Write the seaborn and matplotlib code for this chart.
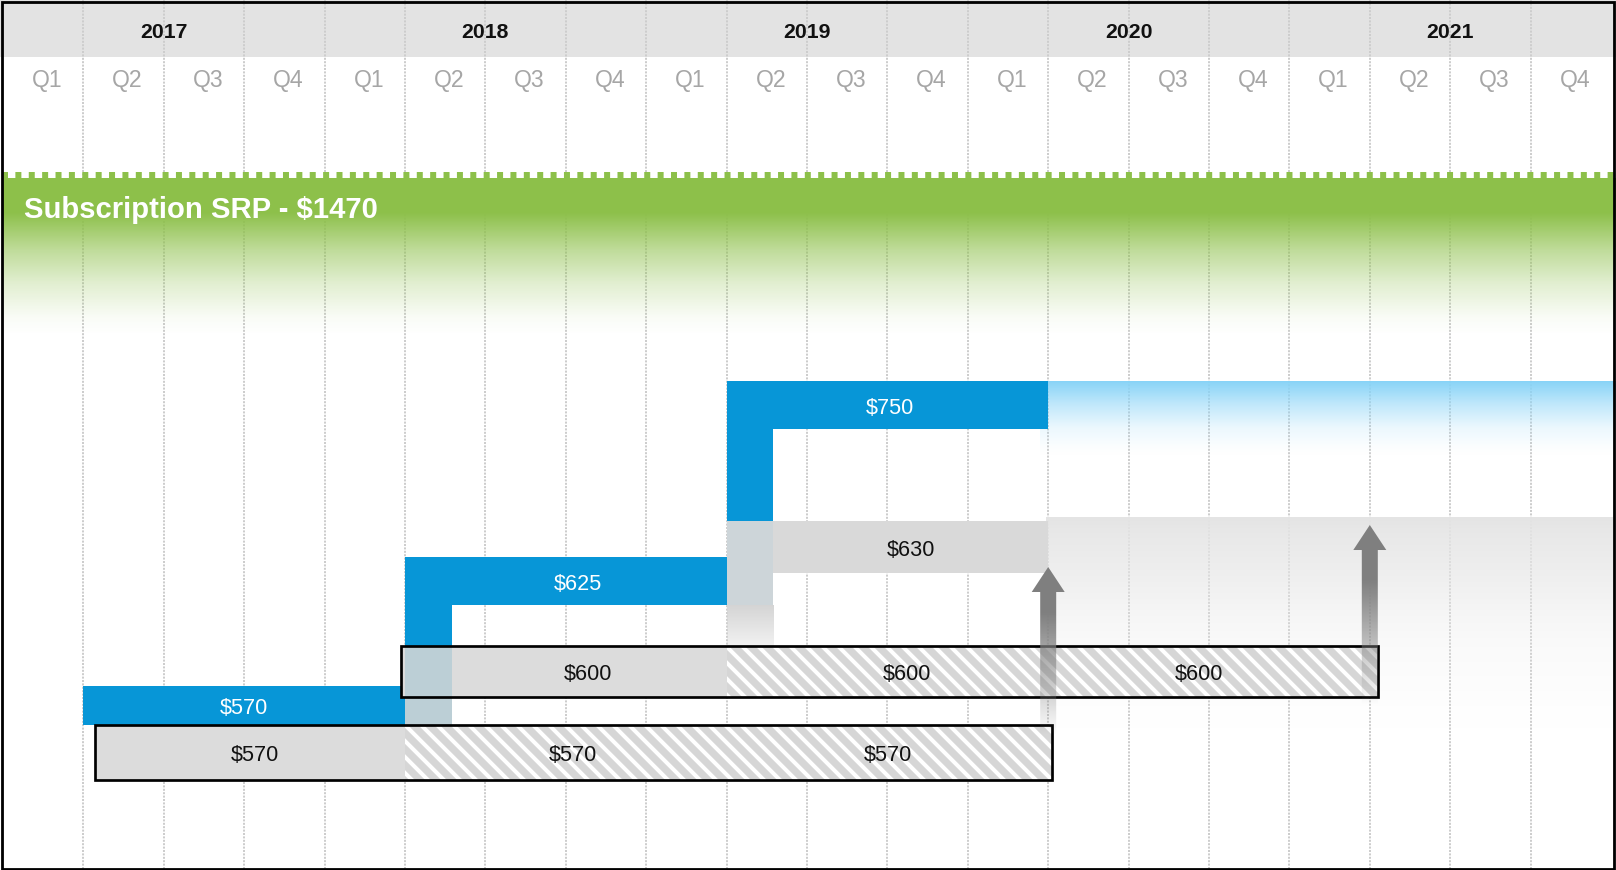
import numpy as np
import matplotlib
matplotlib.use("Agg")
import matplotlib.pyplot as plt
import seaborn as sns
from matplotlib.colors import to_rgb
from matplotlib.patches import Rectangle, FancyArrow

# chart data (x positions are quarters counted from 2017 Q1)
years = ["2017", "2018", "2019", "2020", "2021"]
quarter_names = ["Q1", "Q2", "Q3", "Q4"]
title = "Subscription SRP - $1470"

# blue price tiers
tier_start = [1, 5, 9]
tier_end = [5, 9, 13]
tier_labels = ["$570", "$625", "$750"]

# gray upgrade price
upgrade_start = 9
upgrade_end = 13
upgrade_label = "$630"

# contracts split per year, first year solid, later years hatched
contract_a_start = [1.15, 5, 9]
contract_a_end = [5, 9, 13.05]
contract_a_labels = ["$570", "$570", "$570"]

contract_b_start = [4.95, 9, 13]
contract_b_end = [9, 13, 17.1]
contract_b_labels = ["$600", "$600", "$600"]

# renewal arrows
renewal_q = [13, 17]

# layout, in output pixels
W, H, DPI = 1616, 870, 144
X0, QW = 3, 80.4


def qx(px):
    return (px - X0) / QW


def pt(px):
    return px * 72 / DPI


tier_rows = [(686, 725), (557, 605), (381, 429)]
tier_dx = [0.0, 0.15, 0.03]
upgrade_row = (521, 573)
contract_a_row = (725, 780)
contract_b_row = (646, 697)
contract_a_dx = [0.06, 0.09, -0.02]
contract_b_dx = [0.3, 0.24, -0.18]
link_w = 0.58
link_tint_top = [646, 521]
link_tint = ["#bccfd6", "#cdd5d9"]
arrow_tip = [567, 525]
arrow_tail = [735, 705]
arrow_solid_to = [613, 580]
label_px = 21.6
label_dy = 3

BLUE = "#0796d7"
GREEN = "#8dc04a"

sns.set_theme(style="white")
plt.rcParams["font.family"] = ["Liberation Sans", "DejaVu Sans"]
plt.rcParams["hatch.color"] = "white"
plt.rcParams["hatch.linewidth"] = 2.0

fig = plt.figure(figsize=(W / DPI, H / DPI), dpi=DPI, facecolor="white")
ax = fig.add_axes([0, 0, 1, 1])
ax.set_facecolor("white")


def vfade(x0, x1, stops_y, stops_a, color, z, clip=None):
    ys = np.linspace(stops_y[0], stops_y[-1], 600)
    a = np.interp(ys, stops_y, stops_a)
    img = np.zeros((len(ys), 4, 4))
    img[..., :3] = to_rgb(color)
    img[..., 3] = a[:, None]
    im = ax.imshow(img, extent=(x0, x1, stops_y[-1], stops_y[0]), origin="upper",
                   aspect="auto", interpolation="nearest", zorder=z)
    if clip is not None:
        im.set_clip_path(clip)
    return im


# header and grid
ax.axhspan(0, 57, color="#e3e3e3", lw=0, zorder=0.5)
ax.vlines(np.arange(1, 20), 0, H, colors="#cdcdcd", linewidth=pt(2),
          linestyles=(0, (1, 0.7)), zorder=1)

for i, yr in enumerate(years):
    ax.text(4 * i + 2, 32, yr, ha="center", va="center", fontsize=pt(21.3),
            fontweight="bold", color="#111111", zorder=6)
quarters = [qn for _ in years for qn in quarter_names]
for k, qn in enumerate(quarters):
    ax.text(k + 0.55, 80, qn, ha="center", va="center", fontsize=pt(23),
            color="#a6a6a6", zorder=6)

# green SRP band
ax.plot([qx(2), qx(W)], [175, 175], color=GREEN, lw=pt(6),
        linestyle=(0, (1, 1.23)), zorder=2)
vfade(qx(2), qx(W), [178, 213, 250, 283, 317, 335], [1, 1, 0.56, 0.26, 0.05, 0], GREEN, 2)
ax.text(qx(24), 210, title, ha="left", va="center", fontsize=pt(29.2),
        fontweight="bold", color="white", zorder=6)

# faded future areas
vfade(qx(1040), qx(W), [381, 403, 427, 447, 456], [1, 0.55, 0.17, 0.03, 0], "#87d3f7", 2)
vfade(qx(1046), qx(1613), [517, 533, 583, 617, 643, 700, 730],
      [1, 0.85, 0.55, 0.33, 0.2, 0.05, 0], "#e4e4e4", 2)

# blue tiers
for s, e, (t, b), lab, dx in zip(tier_start, tier_end, tier_rows, tier_labels, tier_dx):
    ax.barh((t + b) / 2, e - s, left=s, height=b - t, color=BLUE, lw=0, zorder=3)
    ax.text((s + e) / 2 + dx, (t + b) / 2 + label_dy, lab, ha="center", va="center",
            fontsize=pt(label_px), color="white", zorder=6)

# steps between tiers
for i in range(1, len(tier_start)):
    s = tier_start[i]
    top = tier_rows[i][0]
    tint_top = link_tint_top[i - 1]
    low_bottom = tier_rows[i - 1][1]
    ax.barh((top + tint_top) / 2, link_w, left=s, height=tint_top - top,
            color=BLUE, lw=0, zorder=3)
    ax.barh((tint_top + low_bottom) / 2, link_w, left=s, height=low_bottom - tint_top,
            color=link_tint[i - 1], lw=0, zorder=3.8)
vfade(tier_start[2], tier_start[2] + link_w, [tier_rows[1][1], contract_b_row[0]],
      [1, 0.3], "#d4d4d4", 3)

# upgrade bar
t, b = upgrade_row
ax.barh((t + b) / 2, upgrade_end - upgrade_start, left=upgrade_start, height=b - t,
        color="#d9d9d9", lw=0, zorder=3)
ax.text((upgrade_start + link_w + upgrade_end) / 2, (t + b) / 2 + label_dy, upgrade_label,
        ha="center", va="center", fontsize=pt(label_px), color="#111111", zorder=6)

# contracts
for starts, ends, labels, (t, b), dxs in [
        (contract_a_start, contract_a_end, contract_a_labels, contract_a_row, contract_a_dx),
        (contract_b_start, contract_b_end, contract_b_labels, contract_b_row, contract_b_dx)]:
    yc = (t + b) / 2
    for j, (s, e, lab, dx) in enumerate(zip(starts, ends, labels, dxs)):
        ax.barh(yc, e - s, left=s, height=b - t,
                color="#dcdcdc" if j == 0 else "#d6d6d6",
                edgecolor="white", linewidth=0,
                hatch=None if j == 0 else "\\\\\\", zorder=3.5)
        ax.text((s + e) / 2 + dx, yc + label_dy, lab, ha="center", va="center",
                fontsize=pt(label_px), color="#111111", zorder=6)
    ax.barh(yc, ends[-1] - starts[0], left=starts[0], height=b - t, fill=False,
            edgecolor="black", linewidth=pt(2.7), zorder=4.5)

# renewal arrows
for q, tip, tail, solid in zip(renewal_q, arrow_tip, arrow_tail, arrow_solid_to):
    arr = FancyArrow(q, tail, 0, tip - tail, width=16 / QW, head_width=33 / QW,
                     head_length=25, length_includes_head=True,
                     facecolor="none", edgecolor="none", zorder=5)
    ax.add_patch(arr)
    vfade(q - 0.22, q + 0.22, [tip, solid, tail], [1, 1, 0], "#7f7f7f", 5, clip=arr)

# outer frame
fig.patches.append(Rectangle((2 / W, 1.5 / H), (W - 4) / W, (H - 3) / H,
                             transform=fig.transFigure, fill=False,
                             edgecolor="black", linewidth=pt(2.8), zorder=10))

ax.set_xlim(qx(0), qx(W))
ax.set_ylim(H, 0)
ax.axis("off")

fig.savefig("out.png", dpi=DPI)
